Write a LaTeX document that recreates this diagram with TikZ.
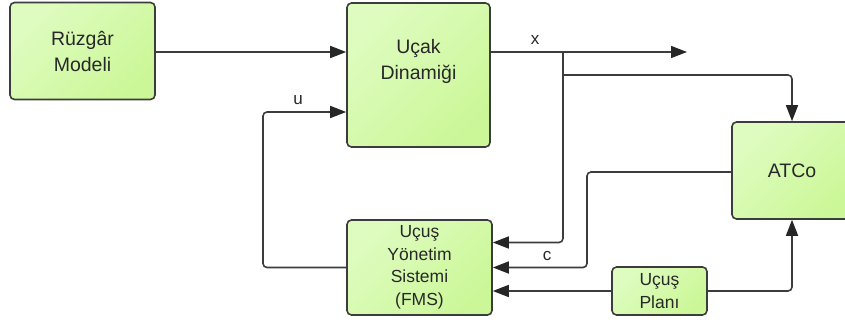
\documentclass[tikz,border=0pt]{standalone}
\usepackage{fontspec}
\setmainfont{Liberation Sans}
\usetikzlibrary{arrows.meta, positioning}
\definecolor{blokacik}{RGB}{222, 252, 192}
\definecolor{blokkoyu}{RGB}{204, 247, 152}
\definecolor{cizgigri}{RGB}{60, 60, 60}
\definecolor{yazigri}{RGB}{40, 40, 40}
\tikzset{
  blok/.style={
    draw=cizgigri,
    line width=1.6pt,
    rounded corners=4.5pt,
    left color=blokacik,
    right color=blokkoyu,
    shading angle=45,
    align=center,
    inner sep=0pt,
    text=yazigri,
    font=\fontsize{19.5}{26}\selectfont
  },
  kucukblok/.style={
    blok,
    font=\fontsize{17.5}{22.5}\selectfont
  },
  baglanti/.style={
    draw=cizgigri,
    line width=1.6pt,
    rounded corners=4pt,
    -{Triangle[length=16pt,width=12pt,fill=black!85,color=black!85]}
  },
  etiket/.style={
    text=yazigri,
    inner sep=0pt,
    font=\fontsize{17}{17}\selectfont
  }
}

\begin{document}
\begin{tikzpicture}[x=1pt, y=-1pt]
  \useasboundingbox (0,0) rectangle (845,323);

  \node[blok, minimum width=145pt, minimum height=97pt] (ruzgar) at (82.5, 51) {Rüzgâr\\Modeli};
  \node[blok, minimum width=143pt, minimum height=144pt] (ucak) at (418.5, 75) {Uçak\\Dinamiği\\[6pt]};
  \node[blok, minimum width=120pt, minimum height=97pt] (atco) at (792, 170.5) {ATCo};
  \node[kucukblok, minimum width=145pt, minimum height=95pt] (fms) at (419.5, 267.5) {Uçuş\\Yönetim\\Sistemi\\(FMS)};
  \node[kucukblok, minimum width=95pt, minimum height=48pt] (plan) at (659.5, 291) {Uçuş\\Planı};

  \coordinate (ayrim) at (563, 52);
  \coordinate (xcikis) at (687, 52);
  \coordinate (kol) at (563, 75);
  \coordinate (donus) at (587, 172);
  \coordinate (ugeri) at (263, 112);

  % ruzgar -> ucak
  \draw[baglanti] (ruzgar.east |- ayrim) -- (ayrim -| ucak.west);

  % durum cikisi x
  \draw[baglanti] (ucak.east |- ayrim) -- (xcikis);
  \node[etiket] (xetiket) at (535, 40) {x};
  \draw[baglanti] (ayrim) |- ([yshift=25pt]fms.east);
  \draw[baglanti] (kol) -| (atco.north);

  % atco -> fms (c)
  \draw[baglanti] (atco.west |- donus) -| (donus |- fms.east) -- (fms.east);
  \node[etiket] (cetiket) at (547, 256) {c};

  % ucus plani
  \draw[baglanti] (plan.west) -- (plan.west -| fms.east);
  \draw[baglanti] (plan.east) -| (atco.south);

  % kontrol girdisi u
  \draw[baglanti] (fms.west) -| (ugeri) -- (ugeri -| ucak.west);
  \node[etiket] (uetiket) at (298, 100) {u};
\end{tikzpicture}
\end{document}
